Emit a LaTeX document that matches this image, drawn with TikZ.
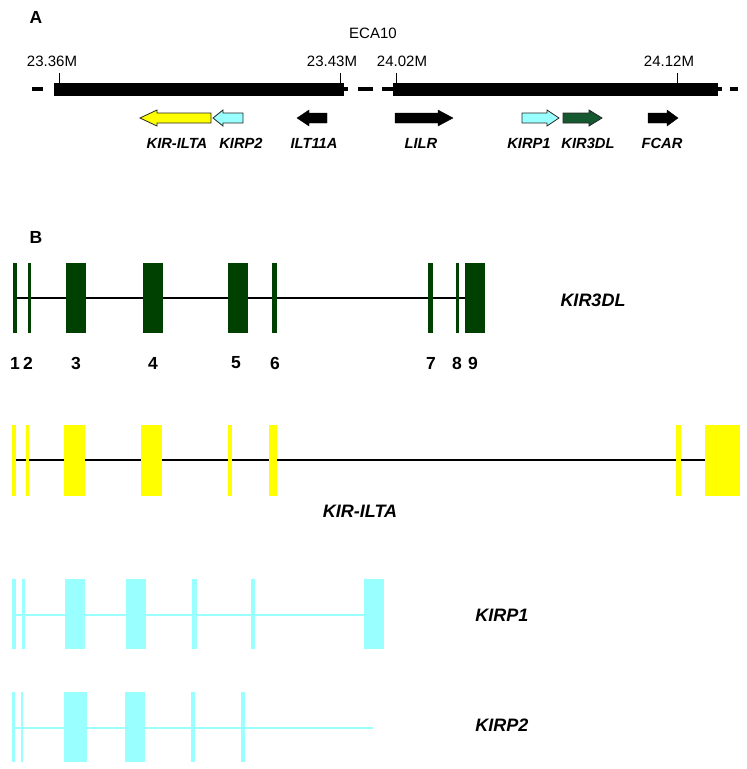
\documentclass[tikz,border=0pt]{standalone}
\usepackage{fontspec}
\setmainfont{Liberation Sans}
\definecolor{dgreen}{RGB}{0,64,0}
\definecolor{agreen}{RGB}{22,88,48}
\definecolor{lcyan}{RGB}{153,255,255}
\definecolor{kyellow}{RGB}{255,255,0}
\newcommand\garrow[5]{%
  \begin{scope}[shift={(#2,118)},xscale=#3]
    \draw[#1] (0,-5) -- (#4-#5,-5) -- (#4-#5,-8) -- (#4,0) -- (#4-#5,8) -- (#4-#5,5) -- (0,5) -- cycle;
  \end{scope}}
\begin{document}
\begin{tikzpicture}[x=1pt,y=-1pt,
  panel/.style={font=\fontsize{17.5}{19}\selectfont\bfseries, inner sep=0},
  ticklbl/.style={font=\fontsize{15}{17}\selectfont, inner sep=0},
  geneA/.style={font=\fontsize{14.7}{16}\selectfont\bfseries\itshape, inner sep=0},
  geneB/.style={font=\fontsize{18}{20}\selectfont\bfseries\itshape, inner sep=0},
  num/.style={font=\fontsize{17.5}{19}\selectfont\bfseries, inner sep=0},
  chromdash/.style={line width=4pt},
  tickline/.style={line width=1pt},
  intron/.style={line width=2pt},
  outl/.style={draw=black!85, line width=0.8pt}]
\useasboundingbox[fill=white] (0,0) rectangle (747,769);

% ---------- Panel A ----------
\node[panel] (labA) at (36,17) {A};
\node[ticklbl] (eca) at (373,33) {ECA10};
\foreach \a/\b in {32/43, 344/348, 358/373, 382/393, 718/722, 730/738}
  \draw[chromdash] (\a,89) -- (\b,89);
\fill[black] (54,83) rectangle (344,96);
\fill[black] (393,83) rectangle (718,96);
\foreach \x/\lx/\t/\nm in {59/52/23.36M/t1, 340/332/23.43M/t2, 396/402/24.02M/t3, 677/669/24.12M/t4}{
  \draw[tickline] (\x,73) -- (\x,83);
  \node[ticklbl] (\nm) at (\lx,61) {\t};
}
\garrow{fill=kyellow,outl}{211}{-1}{71}{17}
\garrow{fill=lcyan,outl}{243}{-1}{30}{10}
\garrow{fill=black,draw=black}{327}{-1}{30}{12}
\garrow{fill=black,draw=black}{395}{1}{58}{15}
\garrow{fill=lcyan,outl}{522}{1}{37}{12}
\garrow{fill=agreen,outl}{563}{1}{39}{13}
\garrow{fill=black,draw=black}{648}{1}{30}{11}
\node[geneA] (gA1) at (177,143) {KIR-ILTA};
\node[geneA] (gA2) at (241,143) {KIRP2};
\node[geneA] (gA3) at (314,143) {ILT11A};
\node[geneA] (gA4) at (421,143) {LILR};
\node[geneA] (gA5) at (529,143) {KIRP1};
\node[geneA] (gA6) at (588,143) {KIR3DL};
\node[geneA] (gA7) at (662,143) {FCAR};

% ---------- Panel B ----------
\node[panel] (labB) at (36,237) {B};

% KIR3DL
\draw[intron, black] (14,298) -- (465,298);
\foreach \a/\b in {13/17, 28/31, 66/86, 143/163, 228/248, 272/277, 428/433, 456/459, 465/485}
  \fill[dgreen] (\a,263) rectangle (\b,333);
\foreach \x/\n in {15/1, 28/2, 76/3, 153/4, 236/5, 275/6, 431/7, 457/8, 473/9}
  \node[num] (n\n) at (\x,363) {\n};
\node[geneB] (gB1) at (593,300) {KIR3DL};

% KIR-ILTA
\draw[intron, black] (14,460) -- (706,460);
\foreach \a/\b in {12/16, 26/29, 64/85, 141/162, 228/232, 269/277, 676/681, 705/740}
  \fill[kyellow] (\a,425) rectangle (\b,496);
\node[geneB] (gB2) at (360,511) {KIR-ILTA};

% KIRP1
\draw[intron, lcyan] (14,615) -- (365,615);
\foreach \a/\b in {12/16, 22/25, 65/85, 126/146, 192/197, 251/255, 364/384}
  \fill[lcyan] (\a,579) rectangle (\b,649);
\node[geneB] (gB3) at (502,615) {KIRP1};

% KIRP2
\draw[intron, lcyan] (14,728) -- (373,728);
\foreach \a/\b in {12/15, 21/23, 64/87, 125/145, 191/195, 241/245}
  \fill[lcyan] (\a,692) rectangle (\b,762);
\node[geneB] (gB4) at (502,725) {KIRP2};
\end{tikzpicture}
\end{document}
